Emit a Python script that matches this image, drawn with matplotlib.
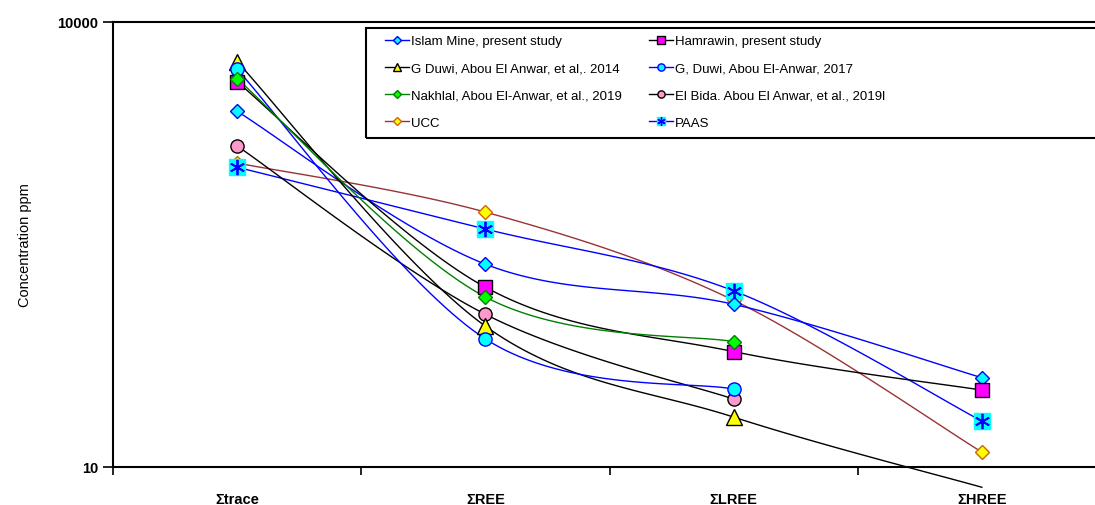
import numpy as np
import matplotlib
matplotlib.use('Agg')
import matplotlib.pyplot as plt
from matplotlib.lines import Line2D
from matplotlib.patches import Rectangle

plt.rcParams['font.family'] = ['Liberation Sans', 'DejaVu Sans']

# categories and series (ppm)
categories = ['\u03a3trace', '\u03a3REE', '\u03a3LREE', '\u03a3HREE']

islam_mine = [2500, 233, 125, 40]
hamrawin = [3950, 163, 60, 33]
gduwi_2014 = [5400, 89, 21.7, 7.3]
gduwi_2017 = [4800, 73, 33.5, np.nan]
nakhlal = [4150, 140, 70, np.nan]
el_bida = [1460, 107, 28.7, np.nan]
ucc = [1120, 523, 133, 12.6]
paas = [1050, 402, 154, 20.4]

labels = ['Islam Mine, present study', 'Hamrawin, present study',
          'G Duwi, Abou El Anwar, et al,. 2014', 'G, Duwi, Abou El-Anwar, 2017',
          'Nakhlal, Abou El-Anwar, et al., 2019', 'El Bida. Abou El Anwar, et al., 2019l',
          'UCC', 'PAAS']


def smooth_curve(xs, ys, n=40):
    # Excel-style smoothed line: bezier through points in (x, log y) space
    xs = np.asarray(xs, float)
    ly = np.log10(np.asarray(ys, float))
    ok = ~np.isnan(ly)
    p = np.column_stack([xs[ok], ly[ok]])
    out = []
    for i in range(len(p) - 1):
        p0 = p[i - 1] if i > 0 else p[i]
        p1, p2 = p[i], p[i + 1]
        p3 = p[i + 2] if i + 2 < len(p) else p[i + 1]
        c1 = p1 + (p2 - p0) / 6
        c2 = p2 - (p3 - p1) / 6
        t = np.linspace(0, 1, n)[:, None]
        seg = ((1 - t) ** 3 * p1 + 3 * (1 - t) ** 2 * t * c1
               + 3 * (1 - t) * t ** 2 * c2 + t ** 3 * p2)
        out.append(seg if i == 0 else seg[1:])
    seg = np.vstack(out)
    return seg[:, 0], 10 ** seg[:, 1]


fig = plt.figure(figsize=(10.95, 5.06), dpi=100)
W, H = 1095, 506
ax = fig.add_axes([113 / W, 38 / H, 993 / W, 445 / H])

x = np.arange(len(categories))

styles = [
    (islam_mine, dict(color='#0000ff'), dict(marker='D', ms=7, mfc='#00ffff', mec='#0000ff')),
    (hamrawin, dict(color='black'), dict(marker='s', ms=9.5, mfc='#ff00ff', mec='black')),
    (gduwi_2014, dict(color='black'), dict(marker='^', ms=11, mfc='#ffff00', mec='black')),
    (gduwi_2017, dict(color='#0000ff'), dict(marker='o', ms=9.5, mfc='#00ffff', mec='#0000ff')),
    (nakhlal, dict(color='#008000'), dict(marker='D', ms=7, mfc='#00ff00', mec='#008000')),
    (el_bida, dict(color='black'), dict(marker='o', ms=9.5, mfc='#ff99cc', mec='black')),
    (ucc, dict(color='#993333'), dict(marker='D', ms=7.5, mfc='#ffff00', mec='#cc6600')),
    (paas, dict(color='#0000ff'), dict(marker='s', ms=11, mfc='#00ffff', mec='#00ffff')),
]

# draw order: back series first so markers stack like the reference
order = [6, 7, 5, 0, 2, 3, 1, 4]
handles = [None] * len(styles)
for k in order:
    vals, lstyle, mstyle = styles[k]
    sx, sy = smooth_curve(x, vals)
    ax.plot(sx, sy, lw=1.0, clip_on=(k != 2), zorder=2, **lstyle)
    vis = [i for i in range(len(vals)) if not np.isnan(vals[i]) and vals[i] >= 10]
    ax.plot(x[vis], np.array(vals)[vis], ls='none', zorder=3, mew=1.0, **mstyle)
    h = Line2D([], [], lw=1.0, **lstyle, **dict(mstyle, ms=mstyle['ms'] * 0.55))
    if k == 7:
        ax.plot(x[vis], np.array(vals)[vis], ls='none', marker=(6, 2, 0), ms=11,
                mec='#0000ff', mew=1.3, zorder=4)
        star = Line2D([], [], ls='none', marker=(6, 2, 0), ms=6, mec='#0000ff', mew=1.0)
        h = (h, star)
    handles[k] = h

ax.set_yscale('log')
ax.set_ylim(10, 10000)
ax.set_xlim(-0.5, 3.5)
ax.set_yticks([10, 10000])
ax.set_yticklabels(['10', '10000'])
ax.yaxis.set_minor_locator(matplotlib.ticker.NullLocator())
ax.set_xticks(x)
ax.set_xticklabels(categories)
ax.set_xticks(np.arange(-0.5, 3.6, 1), minor=True)
ax.tick_params(axis='x', which='major', length=0, pad=18, labelsize=10.5)
ax.tick_params(axis='x', which='minor', length=6, width=1.2, direction='out')
ax.tick_params(axis='y', which='major', length=7, width=1.2, direction='out', labelsize=10.5)
for lab in ax.get_xticklabels() + ax.get_yticklabels():
    lab.set_fontweight('bold')
for s in ['left', 'bottom', 'top']:
    ax.spines[s].set_linewidth(1.5)
ax.spines['right'].set_visible(False)
ax.set_ylabel('Concentration ppm', fontsize=10.5, labelpad=18)

# legend, row-wise like the original (two columns)
leg_order = [0, 2, 4, 6, 1, 3, 5, 7]
leg = fig.legend([handles[i] for i in leg_order], [labels[i] for i in leg_order],
                 ncol=2, loc='upper left', bbox_to_anchor=(385 / W, 1 - 36 / H),
                 frameon=False, fontsize=9.5, handlelength=1.8, handletextpad=0.15,
                 labelspacing=1.13, columnspacing=2.1, borderpad=0, borderaxespad=0)
fig.patches.append(Rectangle((366 / W, 1 - 139 / H), 740 / W, 110 / H,
                             transform=fig.transFigure, fill=False, ec='black', lw=1.5))

fig.savefig('out.png', dpi=100)
